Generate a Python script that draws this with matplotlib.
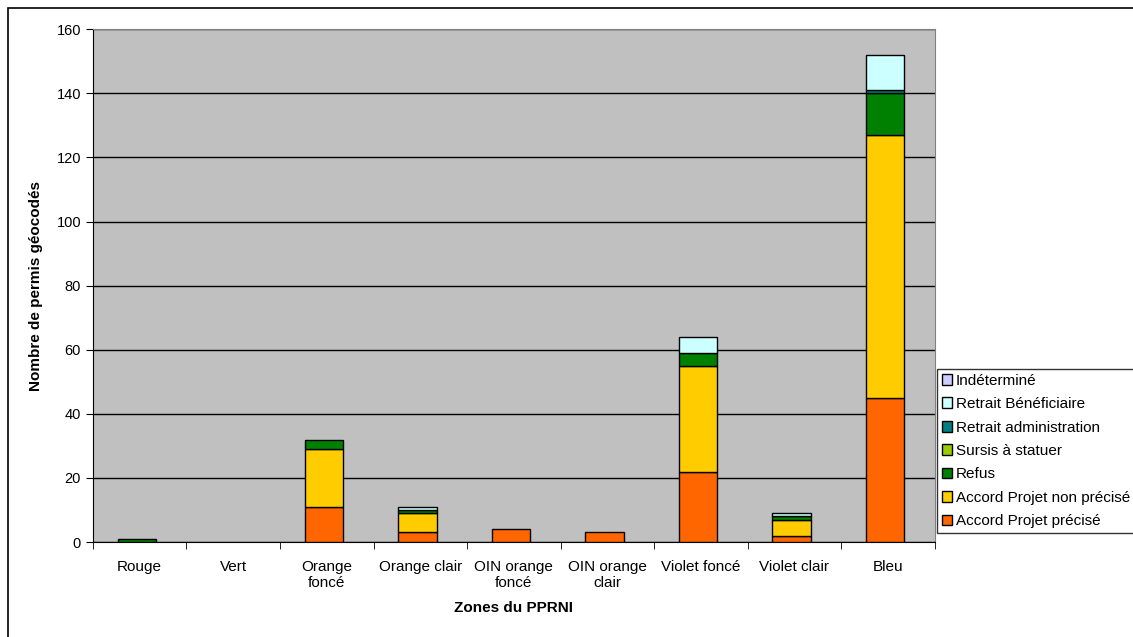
import numpy as np
import matplotlib
matplotlib.use('Agg')
import matplotlib.pyplot as plt
from matplotlib.patches import Rectangle

plt.rcParams['font.family'] = ['Liberation Sans', 'DejaVu Sans']

zones = ['Rouge', 'Vert', 'Orange\nfoncé', 'Orange clair', 'OIN orange\nfoncé',
         'OIN orange\nclair', 'Violet foncé', 'Violet clair', 'Bleu']

# séries empilées (du bas vers le haut)
accord_precise = [0, 0, 11, 3, 4, 3, 22, 2, 45]
accord_non_precise = [0, 0, 18, 6, 0, 0, 33, 5, 82]
refus = [1, 0, 3, 1, 0, 0, 4, 1, 13]
sursis = [0, 0, 0, 0, 0, 0, 0, 0, 0]
retrait_admin = [0, 0, 0, 0, 0, 0, 0, 0, 1]
retrait_benef = [0, 0, 0, 1, 0, 0, 5, 1, 11]
indetermine = [0, 0, 0, 0, 0, 0, 0, 0, 0]

series = [
    ('Accord Projet précisé', accord_precise, '#FF6600'),
    ('Accord Projet non précisé', accord_non_precise, '#FFCC00'),
    ('Refus', refus, '#008000'),
    ('Sursis à statuer', sursis, '#99CC00'),
    ('Retrait administration', retrait_admin, '#008080'),
    ('Retrait Bénéficiaire', retrait_benef, '#CCFFFF'),
    ('Indéterminé', indetermine, '#CCCCFF'),
]

fig = plt.figure(figsize=(11.33, 6.37), dpi=100)
ax = fig.add_axes([0.082, 0.149, 0.743, 0.805])
ax.set_facecolor('#C0C0C0')

x = np.arange(len(zones))
bottom = np.zeros(len(zones))
handles = []
for name, vals, col in series:
    vals = np.array(vals, dtype=float)
    b = ax.bar(x - 0.03, vals, 0.41, bottom=bottom, color=col, edgecolor='black',
               linewidth=1.0, zorder=3)
    # pas de contour pour les valeurs nulles
    for r, v in zip(b, vals):
        if v == 0:
            r.set_visible(False)
    handles.append(Rectangle((0, 0), 1, 1, facecolor=col, edgecolor='black',
                             linewidth=1.0, label=name))
    bottom += vals

ax.set_xlim(-0.5, len(zones) - 0.5)
ax.set_ylim(0, 160)
ax.set_yticks(range(0, 161, 20))
ax.yaxis.grid(True, color='black', linewidth=1.0, zorder=1)
ax.set_axisbelow(True)

ax.set_xticks(x)
ax.set_xticklabels(zones, fontsize=11)
ax.set_xticks(np.arange(-0.5, len(zones), 1), minor=True)
ax.tick_params(axis='x', which='major', length=0, pad=13)
ax.tick_params(axis='x', which='minor', length=5, direction='out')
ax.tick_params(axis='y', labelsize=10.5, length=5, direction='out')

for s in ['top', 'right']:
    ax.spines[s].set_color('#808080')
ax.spines['left'].set_color('black')
ax.spines['bottom'].set_color('black')

ax.set_xlabel('Zones du PPRNI', fontsize=11, fontweight='bold', labelpad=8)
ax.set_ylabel('Nombre de permis géocodés', fontsize=11, fontweight='bold', labelpad=10)

leg = fig.legend(handles=handles[::-1], loc='lower left',
                 bbox_to_anchor=(937 / 1133, 1 - 533 / 637),
                 fontsize=11, frameon=True, fancybox=False, edgecolor='black',
                 handlelength=0.7, handleheight=0.7, handletextpad=0.25,
                 labelspacing=0.62, borderpad=0.3, borderaxespad=0)
leg.get_frame().set_linewidth(1.0)

fig.patches.append(Rectangle((0.007, -0.01), 1.0, 0.998, transform=fig.transFigure,
                             fill=False, edgecolor='black', linewidth=1.2))

fig.savefig('out.png', dpi=100)
